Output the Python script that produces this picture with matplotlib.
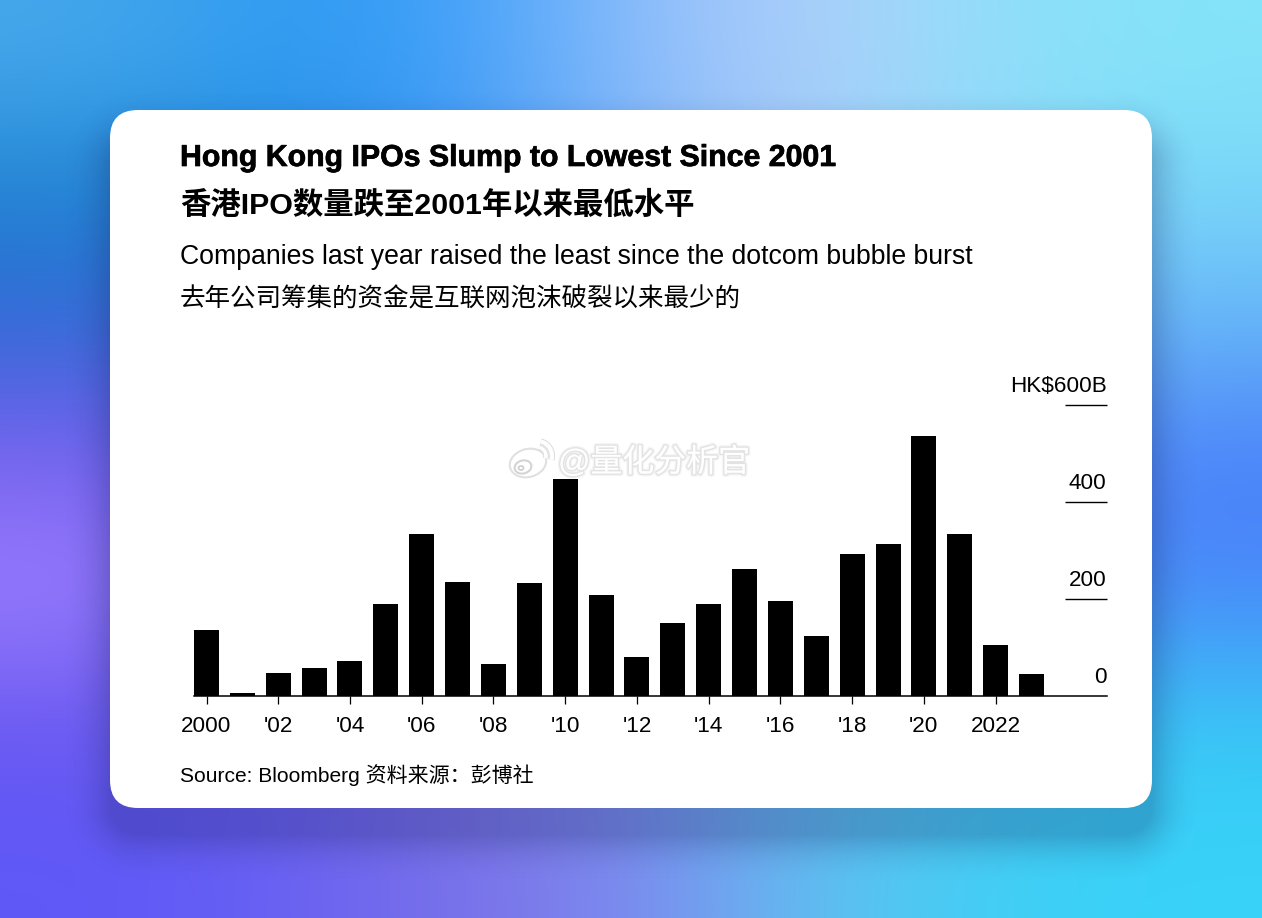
import numpy as np
import matplotlib.pyplot as plt
import matplotlib.patheffects as pe
from matplotlib.patches import FancyBboxPatch, Ellipse, Arc

plt.rcParams["font.family"] = ["Liberation Sans", "Noto Sans CJK SC", "DejaVu Sans"]

W, H = 1262, 918

# IPO proceeds by year, HK$ billions
years = list(range(2000, 2024))
proceeds = [135, 6, 46, 56, 71, 189, 332, 234, 65, 232, 446, 208,
            80, 149, 189, 261, 195, 122, 292, 312, 535, 333, 104, 45]
tick_years = list(range(2000, 2023, 2))
tick_labels = ["2000", "'02", "'04", "'06", "'08", "'10", "'12", "'14", "'16", "'18", "'20", "2022"]
y_ticks = [0, 200, 400, 600]
y_labels = ["0", "200", "400", "HK$600B"]

title_en = "Hong Kong IPOs Slump to Lowest Since 2001"
title_cn = "香港IPO数量跌至2001年以来最低水平"
sub_en = "Companies last year raised the least since the dotcom bubble burst"
sub_cn = "去年公司筹集的资金是互联网泡沫破裂以来最少的"
source = "Source: Bloomberg 资料来源：彭博社"

# background gradient, coarse colour grid blown up with bicubic
bg_colors = [
    ["#46a8ec", "#2f9cf0", "#3d9ffa", "#8cbdfb", "#b2cffa", "#8fdff9", "#84e4f9"],
    ["#1d82cf", "#1f85dc", "#3a90f2", "#7fb2f8", "#a8cdf9", "#8ad8f9", "#78d6f8"],
    ["#3468d6", "#3f72e2", "#4f8cf0", "#6fa8f4", "#8cc0f6", "#78c0f8", "#64b4f8"],
    ["#7a62f0", "#6a5cf0", "#5f80f0", "#6ea0f0", "#70a8f0", "#5a98f8", "#4a80fa"],
    ["#9d80ff", "#7a66f4", "#6a70ec", "#7088e8", "#6898ee", "#4e90f6", "#4a88fa"],
    ["#6a58f0", "#6a5cee", "#7a6ee0", "#7a90e4", "#60b8e8", "#44c4f0", "#38c8f6"],
    ["#5f58f8", "#6660f4", "#7a70e8", "#7f88f0", "#62c0f0", "#40d0f6", "#38d2f8"],
]
bg_hex = [[tuple(int(c[i:i + 2], 16) / 255 for i in (1, 3, 5)) for c in row] for row in bg_colors]

fig = plt.figure(figsize=(W / 100, H / 100), dpi=100)

# page axes in pixel coordinates, holds background, card and text
page = fig.add_axes([0, 0, 1, 1])
page.set_xlim(0, W)
page.set_ylim(H, 0)
page.axis("off")
page.imshow(np.array(bg_hex), extent=(0, W, H, 0), aspect="auto", interpolation="bicubic", zorder=0)

# card shadow: signed distance to the rounded rect, faded out
xx, yy = np.meshgrid(np.arange(W) + 0.5, np.arange(H) + 0.5)
qx = np.abs(xx - 631) - (521 - 28)
qy = np.abs(yy - 474) - (349 - 28)
dist = np.hypot(np.maximum(qx, 0), np.maximum(qy, 0)) + np.minimum(np.maximum(qx, qy), 0) - 28
alpha = 0.24 * np.clip(1 - dist / 50, 0, 1) ** 2
shadow = np.zeros((H, W, 4))
shadow[..., 0:3] = (0.08, 0.12, 0.35)
shadow[..., 3] = alpha
page.imshow(shadow, extent=(0, W, H + 12, 12), aspect="auto", zorder=1)
page.set_xlim(0, W)
page.set_ylim(H, 0)

page.add_patch(FancyBboxPatch((110 + 28, 110 + 28), 1042 - 56, 698 - 56,
                              boxstyle="round,pad=28,rounding_size=28",
                              fc="white", ec="none", zorder=2))

heavier = [pe.withStroke(linewidth=0.5, foreground="black")]
page.text(180, 158, title_en, fontsize=21.8, fontweight="bold", va="center", zorder=3, path_effects=heavier)
page.text(180, 205.5, title_cn, fontsize=21.9, fontweight="bold", va="center", zorder=3)
page.text(180, 257, sub_en, fontsize=19.2, va="center", zorder=3)
page.text(180, 299.5, sub_cn, fontsize=18.4, va="center", zorder=3)
page.text(180, 775.5, source, fontsize=15.1, va="center", zorder=3)

# watermark
glow = [pe.withStroke(linewidth=4, foreground=(0, 0, 0, 0.04)),
        pe.withStroke(linewidth=2.2, foreground=(0, 0, 0, 0.07))]
page.text(558, 463, "@量化分析官", color="white", fontsize=23, va="center", zorder=6, path_effects=glow)
page.add_patch(Ellipse((528, 463), 37, 28, angle=-15, fc="white", ec="#e0e0e0", lw=1.5, zorder=6))
page.add_patch(Ellipse((523, 467), 17, 13, angle=-15, fc="white", ec="#d4d4d4", lw=1.5, zorder=6))
page.add_patch(Ellipse((521, 468), 5, 4, fc="white", ec="#cccccc", lw=1.2, zorder=6))
page.add_patch(Arc((537, 456), 30, 30, theta1=-75, theta2=15, color="white", lw=3, zorder=6,
                   path_effects=[pe.withStroke(linewidth=4.5, foreground="#dddddd")]))
page.add_patch(Arc((537, 456), 18, 18, theta1=-75, theta2=15, color="white", lw=2.5, zorder=6,
                   path_effects=[pe.withStroke(linewidth=4, foreground="#dddddd")]))

# chart axes, placed so the scale lands on the card
left, right, y0, y600 = 194.0, 1106.5, 695.5, 404.5
ax = fig.add_axes([left / W, 1 - y0 / H, (right - left) / W, (y0 - y600) / H], zorder=5)
ax.patch.set_alpha(0)
step = 35.87
ax.set_xlim(2000 - 12.5 / step, 2000 + (right - 206.5) / step)
ax.set_ylim(0, 600)
ax.bar(years, proceeds, width=25 / step, color="black", linewidth=0)

for side in ["top", "left", "right"]:
    ax.spines[side].set_visible(False)
ax.spines["bottom"].set_linewidth(1.1)

ax.set_xticks(tick_years)
ax.set_xticklabels(tick_labels, fontsize=16.2)
ax.tick_params(axis="x", length=6, width=0.9, pad=8.5, color="black")

ax.yaxis.tick_right()
ax.set_yticks(y_ticks[1:])
ax.set_yticklabels([])
ax.tick_params(axis="y", direction="in", length=30, width=1.0, color="black")
for v, lab in zip(y_ticks, y_labels):
    ax.annotate(lab, xy=(1, v), xycoords=("axes fraction", "data"), xytext=(0, 5.5),
                textcoords="offset points", ha="right", va="bottom", fontsize=16.2)

fig.savefig("out.png", dpi=100)
